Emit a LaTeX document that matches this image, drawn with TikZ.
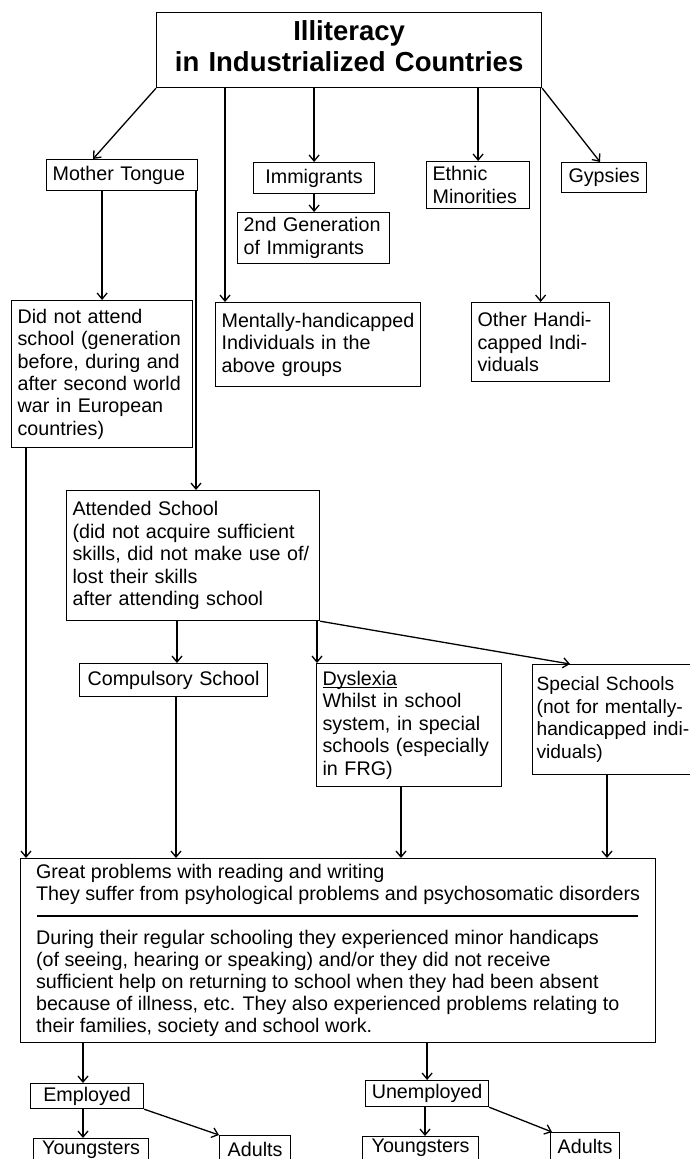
\documentclass[tikz,border=0pt]{standalone}
\usepackage{fontspec}
\setmainfont{Liberation Sans}
\usetikzlibrary{arrows.meta}

\begin{document}
\begin{tikzpicture}[x=1pt,y=-1pt]
\tikzstyle{box}=[draw,line width=1.2pt,anchor=north west,align=left,inner xsep=6pt,inner ysep=2pt,font=\fontsize{19.7}{22.4}\selectfont]
\tikzstyle{conn}=[line width=1.3pt,-{Straight Barb[length=6pt,width=10pt]}]
\useasboundingbox (0,0) rectangle (690,1159);
\clip (0,0) rectangle (690,1159);
% top level
\node[box,align=center,minimum width=385,text width=373,minimum height=75,font=\bfseries\fontsize{27.5}{31}\selectfont] (title) at (156,12) {Illiteracy\\in Industrialized Countries\rule[-8pt]{0pt}{8pt}};
\node[box,minimum width=151,text width=139,minimum height=31] (mother) at (46,159) {Mother Tongue};
\node[box,align=center,minimum width=121,text width=109,minimum height=31] (immig) at (253,162) {Immigrants};
\node[box,minimum width=152,text width=140,minimum height=51] (gen2) at (237,212) {2nd Generation\\of Immigrants};
\node[box,minimum width=103,text width=91,minimum height=47] (ethnic) at (426,161) {Ethnic\\Minorities};
\node[box,align=center,minimum width=85,text width=73,minimum height=30] (gypsies) at (561,162) {Gypsies};
% second level
\node[box,minimum width=181,text width=169,minimum height=147] (notatt) at (11,300) {Did not attend\\school (generation\\before, during and\\after second world\\war in European\\countries)};
\node[box,minimum width=205,text width=193,minimum height=84] (mental) at (215,302) {Mentally-handicapped\\Individuals in the\\above groups};
\node[box,minimum width=138,text width=126,minimum height=79] (otherh) at (471,302) {Other Handi-\\capped Indi-\\viduals};
\node[box,minimum width=253,text width=241,minimum height=130] (attended) at (66,490) {Attended School\\(did not acquire sufficient\\skills, did not make use of/\\lost their skills\\after attending school};
% schools
\node[box,align=center,minimum width=188,text width=176,minimum height=33] (compuls) at (79,663) {Compulsory School};
\node[box,minimum width=185,text width=173,minimum height=123] (dyslex) at (316,663) {\underline{\raisebox{0pt}[\height][0pt]{Dyslexia}}\\Whilst in school\\system, in special\\schools (especially\\in FRG)};
\node[box,inner xsep=4pt,minimum width=170,text width=162,minimum height=110,font=\fontsize{19.2}{22.4}\selectfont] (special) at (532,664) {Special Schools\\(not for mentally-\\handicapped indi-\\viduals)};
\node[box,inner xsep=0pt,minimum width=635,minimum height=184,font=\fontsize{19.7}{22}\selectfont] (great) at (20,858) {Great problems with reading and writing\\
They suffer from psyhological problems and psychosomatic disorders\\[22pt]
During their regular schooling they experienced minor handicaps\\
(of seeing, hearing or speaking) and/or they did not receive\\
sufficient help on returning to school when they had been absent\\
because of illness, etc. They also experienced problems relating to\\
their families, society and school work.};
\draw[line width=1.2pt] (great.north west) ++(17,58) -- ++(601,0);
% bottom
\node[box,align=center,minimum width=113,text width=101,minimum height=25] (employed) at (30,1083) {Employed};
\node[box,align=center,minimum width=123,text width=111,minimum height=26] (unemp) at (365,1080) {Unemployed};
\node[box,align=center,inner ysep=1pt,minimum width=115,text width=103,minimum height=23] (young1) at (33,1138) {Youngsters};
\node[box,align=center,minimum width=71,text width=59,minimum height=28] (adults1) at (219,1135) {Adults};
\node[box,align=center,inner ysep=1pt,minimum width=116,text width=104,minimum height=23] (young2) at (362,1136) {Youngsters};
\node[box,align=center,minimum width=69,text width=57,minimum height=28] (adults2) at (550,1132) {Adults};
% connectors
\draw[conn] (title.south west) -- ([xshift=47]mother.north west);
\draw[conn] (title.south -| 225,0) -- (mental.north -| 225,0);
\draw[conn] (title.south -| immig) -- (immig);
\draw[conn] (immig.south) -- (immig.south |- gen2.north);
\draw[conn] (title.south -| ethnic) -- (ethnic);
\draw[conn] (title.south -| otherh) -- (otherh);
\draw[conn] (title.south east) -- ([xshift=-4]gypsies.north);
\draw[conn] (mother.south -| notatt) -- (notatt);
\draw[conn] (mother.south -| 196,0) -- (attended.north -| 196,0);
\draw[conn] (notatt.south -| 26,0) -- (great.north -| 26,0);
\draw[conn] (attended.south -| 177,0) -- (compuls.north -| 177,0);
\draw[conn] (attended.south -| 317,0) -- (dyslex.north -| 317,0);
\draw[conn] (attended.south east) -- ([xshift=38]special.north west);
\draw[conn] (compuls.south -| 176,0) -- (great.north -| 176,0);
\draw[conn] (dyslex.south -| 401,0) -- (great.north -| 401,0);
\draw[conn] (special.south -| 607,0) -- (great.north -| 607,0);
\draw[conn] (great.south -| 83,0) -- (employed.north -| 83,0);
\draw[conn] (great.south -| unemp) -- (unemp);
\draw[conn] (employed.south -| 83,0) -- (young1.north -| 83,0);
\draw[conn] (employed.south east) -- (adults1.north west);
\draw[conn] (unemp.south -| 425,0) -- (young2.north -| 425,0);
\draw[conn] (unemp.south east) -- ([xshift=2]adults2.north west);
\end{tikzpicture}
\end{document}
